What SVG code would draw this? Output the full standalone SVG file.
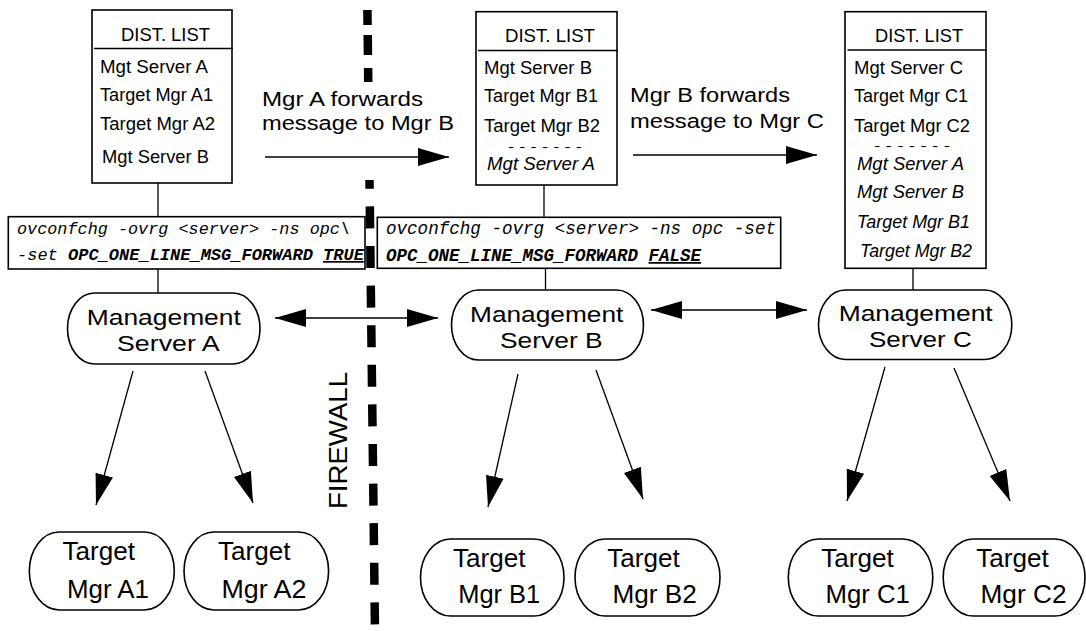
<svg xmlns="http://www.w3.org/2000/svg" width="1086" height="631" viewBox="0 0 1086 631">
<style>
.box{fill:#fff;stroke:#000;stroke-width:1.6}
.ln{fill:none;stroke:#000;stroke-width:1.3}
.arr{fill:none;stroke:#000;stroke-width:1.3;marker-end:url(#ah)}
.dbl{fill:none;stroke:#000;stroke-width:1.3;marker-start:url(#ah);marker-end:url(#ah)}
.t{font-family:"Liberation Sans",Arial,Helvetica,sans-serif;fill:#000}
.dl{font-size:17.5px}
.dash{font-size:12px}
.it{font-style:italic}
.big{font-size:26px}
.mg{font-size:22.5px}
.lbl{font-size:20px}
.mono{font-family:"Liberation Mono","Courier New",monospace;font-style:italic;fill:#000}
.b{font-weight:bold}
.u{text-decoration:underline}
.fw{fill:none;stroke:#000;stroke-width:8.5}
</style>
<defs>
<marker id="ah" markerUnits="userSpaceOnUse" markerWidth="32" markerHeight="20" viewBox="0 0 32 20" refX="31" refY="10" orient="auto-start-reverse">
<path d="M0,1 L31,10 L0,19 z" fill="#000"/>
</marker>
</defs>
<rect width="1086" height="631" fill="#fff"/>

<g id="firewall">
<path class="fw" d="M367.4,10 L368.3,84" stroke-dasharray="15 10 20 13 14 100"/>
<path class="fw" d="M369.5,180 L375,631" stroke-dasharray="22 17.6" stroke-dashoffset="13.2"/>
<text class="t" font-size="26" transform="translate(347,509) rotate(-90)" textLength="137" lengthAdjust="spacingAndGlyphs">FIREWALL</text>
</g>

<g id="connectors">
<path class="ln" d="M158,183 L158,217 M158,269 L158,293 M544,185 L544,217 M545.5,268 L545.5,290 M913,268 L913,290"/>
<path class="arr" d="M265,157 L449,157"/>
<path class="arr" d="M633,155 L817,155"/>
<path class="dbl" d="M275,318 L438,318"/>
<path class="dbl" d="M651,310 L807,310"/>
<path class="arr" d="M133,371 L96,505"/>
<path class="arr" d="M205,371 L253,503"/>
<path class="arr" d="M518,374 L488,507"/>
<path class="arr" d="M596,370 L643,499"/>
<path class="arr" d="M885,367 L847,501"/>
<path class="arr" d="M954,368 L1010,501"/>
</g>

<g id="label-ab">
<text class="t lbl"><tspan x="262" y="106" textLength="161" lengthAdjust="spacingAndGlyphs">Mgr A forwards</tspan><tspan x="262" y="130" textLength="192" lengthAdjust="spacingAndGlyphs">message to Mgr B</tspan></text>
</g>
<g id="label-bc">
<text class="t lbl"><tspan x="630" y="102" textLength="160" lengthAdjust="spacingAndGlyphs">Mgr B forwards</tspan><tspan x="630" y="128" textLength="194" lengthAdjust="spacingAndGlyphs">message to Mgr C</tspan></text>
</g>

<g id="distlist-a">
<rect class="box" x="92" y="10" width="140" height="173"/>
<path class="ln" d="M94,48.5 L233,48.5"/>
<text class="t dl" x="121" y="40.7" textLength="89" lengthAdjust="spacingAndGlyphs">DIST. LIST</text>
<text class="t dl" x="100" y="72.7" textLength="108" lengthAdjust="spacingAndGlyphs">Mgt Server A</text>
<text class="t dl" x="100" y="100.7" textLength="113" lengthAdjust="spacingAndGlyphs">Target Mgr A1</text>
<text class="t dl" x="100" y="130" textLength="115" lengthAdjust="spacingAndGlyphs">Target Mgr A2</text>
<text class="t dl" x="102" y="163.3" textLength="107" lengthAdjust="spacingAndGlyphs">Mgt Server B</text>
</g>

<g id="distlist-b">
<rect class="box" x="476" y="11.7" width="141" height="173.3"/>
<path class="ln" d="M478,50.5 L618,50.5"/>
<text class="t dl" x="505" y="41.7" textLength="90" lengthAdjust="spacingAndGlyphs">DIST. LIST</text>
<text class="t dl" x="484" y="74" textLength="108" lengthAdjust="spacingAndGlyphs">Mgt Server B</text>
<text class="t dl" x="484" y="101.7" textLength="114" lengthAdjust="spacingAndGlyphs">Target Mgr B1</text>
<text class="t dl" x="484" y="131.7" textLength="116" lengthAdjust="spacingAndGlyphs">Target Mgr B2</text>
<text class="t dash" x="508" y="150.5" textLength="74" lengthAdjust="spacingAndGlyphs">- - - - - - -</text>
<text class="t dl it" x="487" y="170" textLength="108" lengthAdjust="spacingAndGlyphs">Mgt Server A</text>
</g>

<g id="distlist-c">
<rect class="box" x="845" y="11.7" width="141" height="256.6"/>
<path class="ln" d="M847.5,50 L987,50"/>
<text class="t dl" x="875" y="41.7" textLength="88" lengthAdjust="spacingAndGlyphs">DIST. LIST</text>
<text class="t dl" x="854" y="74" textLength="109" lengthAdjust="spacingAndGlyphs">Mgt Server C</text>
<text class="t dl" x="854" y="101.7" textLength="114" lengthAdjust="spacingAndGlyphs">Target Mgr C1</text>
<text class="t dl" x="854" y="131.7" textLength="116" lengthAdjust="spacingAndGlyphs">Target Mgr C2</text>
<text class="t dash" x="874" y="150" textLength="76" lengthAdjust="spacingAndGlyphs">- - - - - - -</text>
<text class="t dl it" x="857" y="170" textLength="107" lengthAdjust="spacingAndGlyphs">Mgt Server A</text>
<text class="t dl it" x="857" y="198.3" textLength="107" lengthAdjust="spacingAndGlyphs">Mgt Server B</text>
<text class="t dl it" x="857" y="228.3" textLength="113" lengthAdjust="spacingAndGlyphs">Target Mgr B1</text>
<text class="t dl it" x="860" y="256.7" textLength="112" lengthAdjust="spacingAndGlyphs">Target Mgr B2</text>
</g>

<g id="cmd-a">
<rect class="box" x="8.3" y="216.7" width="356.7" height="52.3"/>
<text class="mono" font-size="17" x="17" y="234" textLength="333" lengthAdjust="spacingAndGlyphs">ovconfchg -ovrg &lt;server&gt; -ns opc\</text>
<text class="mono" font-size="17" x="17" y="260">-set <tspan class="b">OPC_ONE_LINE_MSG_FORWARD</tspan> <tspan class="b u">TRUE</tspan></text>
</g>

<g id="cmd-b">
<rect class="box" x="377.3" y="217.3" width="403.4" height="51"/>
<text class="mono" font-size="17.5" x="386" y="234" textLength="390" lengthAdjust="spacingAndGlyphs">ovconfchg -ovrg &lt;server&gt; -ns opc -set</text>
<text class="mono b" font-size="17.5" x="386" y="261">OPC_ONE_LINE_MSG_FORWARD <tspan class="u">FALSE</tspan></text>
</g>

<g id="mgmt-a">
<rect class="box" x="67.5" y="293" width="192.5" height="71" rx="27" ry="35.5"/>
<text class="t mg"><tspan x="86.8" y="325.2" textLength="154" lengthAdjust="spacingAndGlyphs">Management</tspan><tspan x="117" y="351.4" textLength="102.6" lengthAdjust="spacingAndGlyphs">Server A</tspan></text>
</g>
<g id="mgmt-b">
<rect class="box" x="451.5" y="290" width="192" height="70" rx="27" ry="35"/>
<text class="t mg"><tspan x="470" y="321.5" textLength="153.3" lengthAdjust="spacingAndGlyphs">Management</tspan><tspan x="500" y="347.7" textLength="102.6" lengthAdjust="spacingAndGlyphs">Server B</tspan></text>
</g>
<g id="mgmt-c">
<rect class="box" x="818.5" y="290" width="193.3" height="69.5" rx="27" ry="34.75"/>
<text class="t mg"><tspan x="838.7" y="321.2" textLength="154" lengthAdjust="spacingAndGlyphs">Management</tspan><tspan x="869" y="347.4" textLength="102.7" lengthAdjust="spacingAndGlyphs">Server C</tspan></text>
</g>

<g id="target-a1">
<rect class="box" x="29.3" y="532" width="145" height="78" rx="30" ry="39"/>
<text class="t big"><tspan x="62.5" y="560.4" textLength="72.5" lengthAdjust="spacingAndGlyphs">Target</tspan><tspan x="67" y="597.9" textLength="82" lengthAdjust="spacingAndGlyphs">Mgr A1</tspan></text>
</g>
<g id="target-a2">
<rect class="box" x="184" y="532" width="144.6" height="78" rx="30" ry="39"/>
<text class="t big"><tspan x="217.9" y="560.4" textLength="72.5" lengthAdjust="spacingAndGlyphs">Target</tspan><tspan x="221.4" y="597.9" textLength="85" lengthAdjust="spacingAndGlyphs">Mgr A2</tspan></text>
</g>
<g id="target-b1">
<rect class="box" x="420.5" y="539" width="143.5" height="77" rx="30" ry="38.5"/>
<text class="t big"><tspan x="452.9" y="567" textLength="72.5" lengthAdjust="spacingAndGlyphs">Target</tspan><tspan x="458.2" y="603" textLength="82" lengthAdjust="spacingAndGlyphs">Mgr B1</tspan></text>
</g>
<g id="target-b2">
<rect class="box" x="575" y="539" width="145" height="77" rx="30" ry="38.5"/>
<text class="t big"><tspan x="607.2" y="567" textLength="72.5" lengthAdjust="spacingAndGlyphs">Target</tspan><tspan x="612.4" y="603" textLength="84.3" lengthAdjust="spacingAndGlyphs">Mgr B2</tspan></text>
</g>
<g id="target-c1">
<rect class="box" x="788.3" y="539" width="144.5" height="77" rx="30" ry="38.5"/>
<text class="t big"><tspan x="821.3" y="567" textLength="72.5" lengthAdjust="spacingAndGlyphs">Target</tspan><tspan x="825.5" y="603" textLength="84.3" lengthAdjust="spacingAndGlyphs">Mgr C1</tspan></text>
</g>
<g id="target-c2">
<rect class="box" x="943.2" y="539" width="141.8" height="77" rx="30" ry="38.5"/>
<text class="t big"><tspan x="976.3" y="567" textLength="72.5" lengthAdjust="spacingAndGlyphs">Target</tspan><tspan x="980.5" y="603" textLength="86" lengthAdjust="spacingAndGlyphs">Mgr C2</tspan></text>
</g>
</svg>
